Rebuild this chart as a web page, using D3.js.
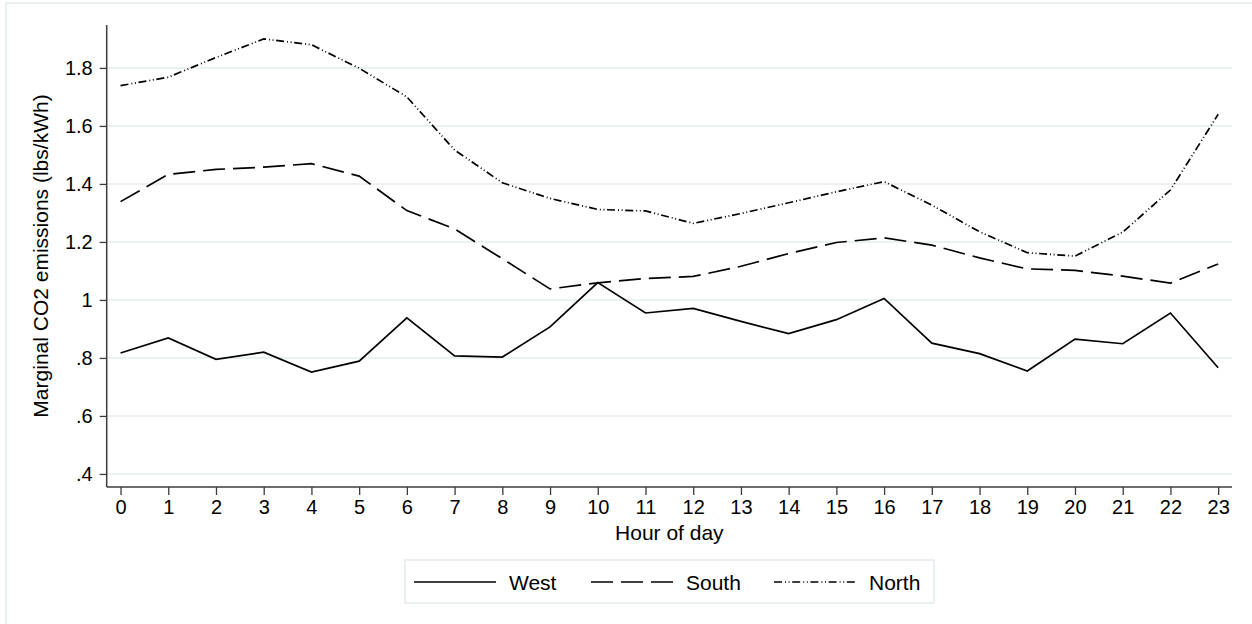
<!DOCTYPE html>
<html>
<head>
<meta charset="utf-8">
<script src="https://cdn.jsdelivr.net/npm/d3@7"></script>
<style>
  html, body { margin: 0; padding: 0; background: #fff; }
  svg { display: block; font-family: "Liberation Sans", Arial, Helvetica, sans-serif; }
</style>
</head>
<body>
<svg id="chart" width="1252" height="624"></svg>
<script>
// Hourly marginal CO2 emission rates by region
const hours = [0, 1, 2, 3, 4, 5, 6, 7, 8, 9, 10, 11, 12, 13, 14, 15, 16, 17, 18, 19, 20, 21, 22, 23];
const west  = [0.817, 0.869, 0.795, 0.820, 0.751, 0.789, 0.938, 0.807, 0.803, 0.907, 1.060, 0.955,
               0.971, 0.926, 0.884, 0.932, 1.005, 0.851, 0.815, 0.755, 0.865, 0.849, 0.955, 0.766];
const south = [1.339, 1.433, 1.450, 1.458, 1.470, 1.427, 1.308, 1.245, 1.142, 1.038, 1.059, 1.074,
               1.081, 1.116, 1.160, 1.198, 1.214, 1.189, 1.145, 1.107, 1.102, 1.082, 1.058, 1.124];
const north = [1.739, 1.768, 1.836, 1.900, 1.880, 1.799, 1.700, 1.517, 1.404, 1.350, 1.312, 1.307,
               1.264, 1.298, 1.335, 1.373, 1.408, 1.327, 1.235, 1.163, 1.151, 1.234, 1.379, 1.640];
const yTicks = [0.4, 0.6, 0.8, 1.0, 1.2, 1.4, 1.6, 1.8];
const seriesNames = ["West", "South", "North"];

const series = [
  { name: seriesNames[0], values: west,  dash: null },
  { name: seriesNames[1], values: south, dash: "22,8" },
  { name: seriesNames[2], values: north, dash: "8,3,1,2.6,1,2.6" }
];

const svg = d3.select("#chart");
const W = 1252, H = 624;
const plot = { left: 106.7, right: 1232, top: 25, bottom: 487 };

// Outer graph frame
svg.append("rect")
  .attr("x", 6).attr("y", 3)
  .attr("width", W + 10).attr("height", H + 10)
  .attr("fill", "#fff").attr("stroke", "#e4ebee").attr("stroke-width", 1.5);

const x = d3.scaleLinear().domain([-0.29, 23.29]).range([plot.left, plot.right]);
const y = d3.scaleLinear().domain([0.355, 1.948]).range([plot.bottom, plot.top]);

const fmt = v => {
  const s = d3.format("~g")(+v.toFixed(2));
  return s.startsWith("0.") ? s.slice(1) : s;
};

// Horizontal grid
svg.append("g").selectAll("line").data(yTicks).join("line")
  .attr("x1", plot.left).attr("x2", plot.right)
  .attr("y1", d => y(d)).attr("y2", d => y(d))
  .attr("stroke", "#e6edf1").attr("stroke-width", 1.5);

// Y axis
const yAxis = svg.append("g")
  .attr("transform", `translate(${plot.left},0)`)
  .call(d3.axisLeft(y).tickValues(yTicks).tickFormat(fmt).tickSize(7).tickPadding(7).tickSizeOuter(0));
yAxis.select(".domain").attr("d", `M0,${plot.top}V${plot.bottom}`);

// X axis
const xAxis = svg.append("g")
  .attr("transform", `translate(0,${plot.bottom})`)
  .call(d3.axisBottom(x).tickValues(hours).tickFormat(d3.format("d")).tickSize(8).tickPadding(5).tickSizeOuter(0));
xAxis.select(".domain").attr("d", `M${plot.left},0H${plot.right}`);

svg.selectAll(".domain").attr("stroke", "#3c3c3c").attr("stroke-width", 1.5);
svg.selectAll(".tick line").attr("stroke", "#3c3c3c").attr("stroke-width", 1.3);
svg.selectAll(".tick text").attr("fill", "#000").style("font-size", "20px").style("font-family", "'Liberation Sans', Arial, Helvetica, sans-serif");

// Axis titles
svg.append("text")
  .attr("transform", `translate(48,${(plot.top + plot.bottom) / 2}) rotate(-90)`)
  .attr("text-anchor", "middle")
  .style("font-size", "21px").attr("fill", "#000")
  .text("Marginal CO2 emissions (lbs/kWh)");

svg.append("text")
  .attr("x", (plot.left + plot.right) / 2).attr("y", 540)
  .attr("text-anchor", "middle")
  .style("font-size", "21px").attr("fill", "#000")
  .text("Hour of day");

// Series lines
const line = d3.line().x((d, i) => x(hours[i])).y(d => y(d));
svg.append("g").selectAll("path").data(series).join("path")
  .attr("d", d => line(d.values))
  .attr("fill", "none")
  .attr("stroke", "#000")
  .attr("stroke-width", 1.7)
  .attr("stroke-linejoin", "miter")
  .attr("stroke-dasharray", d => d.dash);

// Legend
const lg = svg.append("g");
lg.append("rect")
  .attr("x", 405).attr("y", 560).attr("width", 529).attr("height", 43)
  .attr("fill", "#fff").attr("stroke", "#e4ebee").attr("stroke-width", 1.5);
const keyX = [414, 591, 774];
series.forEach((s, i) => {
  lg.append("line")
    .attr("x1", keyX[i]).attr("x2", keyX[i] + 82)
    .attr("y1", 582).attr("y2", 582)
    .attr("stroke", "#000").attr("stroke-width", 1.7)
    .attr("stroke-dasharray", s.dash);
  lg.append("text")
    .attr("x", keyX[i] + 95).attr("y", 590)
    .style("font-size", "21px").attr("fill", "#000")
    .text(s.name);
});
</script>
</body>
</html>
